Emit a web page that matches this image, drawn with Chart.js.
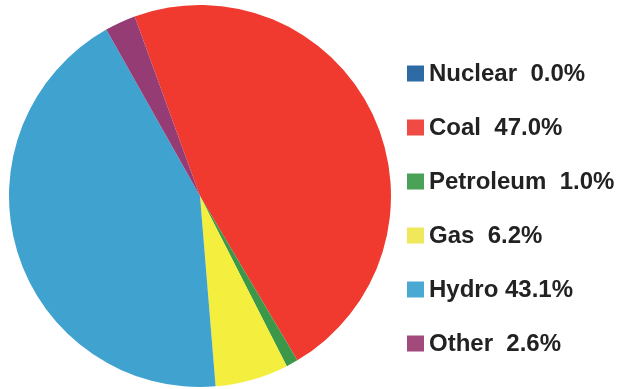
<!DOCTYPE html>
<html>
<head>
<meta charset="utf-8">
<script src="https://cdn.jsdelivr.net/npm/chart.js@4/dist/chart.umd.min.js"></script>
<style>
  html, body { margin: 0; padding: 0; background: #fff; }
  #wrap { width: 622px; height: 389px; position: relative; }
</style>
</head>
<body>
<div id="wrap"><canvas id="chart"></canvas></div>
<script>
// data
const categories = ['Nuclear', 'Coal', 'Petroleum', 'Gas', 'Hydro', 'Other'];
const shares = [0.0, 47.0, 1.0, 6.2, 43.1, 2.6];
const sliceColors = ['#2c68a6', '#f03a2f', '#3a9848', '#f4ee3e', '#3fa2cf', '#963c74'];
const legendColors = ['#2e6aa4', '#f04a44', '#49a257', '#efe85a', '#4aa9d2', '#a24a7c'];

// labels padded like the original: a two-digit value takes the second space
const legendText = categories.map((c, i) => {
  const v = shares[i].toFixed(1);
  return c + (v.length < 4 ? '  ' : ' ') + v + '%';
});
legendText[1] = 'Coal  47.0%';

// simple side legend, drawn by hand so the box/text gap matches
const sideLegend = {
  id: 'sideLegend',
  afterDraw(chart) {
    const ctx = chart.ctx;
    ctx.save();
    ctx.font = 'bold 24px "Liberation Sans", Arial, sans-serif';
    ctx.textBaseline = 'middle';
    legendText.forEach((txt, i) => {
      const y = 73.5 + i * 54;
      ctx.fillStyle = legendColors[i];
      ctx.fillRect(407, y - 8, 17, 16);
      ctx.fillStyle = '#222222';
      ctx.fillText(txt, 429, y + 1);
    });
    ctx.restore();
  }
};

new Chart(document.getElementById('chart'), {
  type: 'pie',
  data: {
    labels: categories,
    datasets: [{
      data: shares,
      backgroundColor: sliceColors,
      borderWidth: 0
    }]
  },
  options: {
    responsive: true,
    maintainAspectRatio: false,
    animation: false,
    rotation: -20,
    layout: { padding: { left: 9, right: 231, top: 5, bottom: 2 } },
    plugins: {
      legend: { display: false },
      tooltip: { enabled: false }
    }
  },
  plugins: [sideLegend]
});
</script>
</body>
</html>
